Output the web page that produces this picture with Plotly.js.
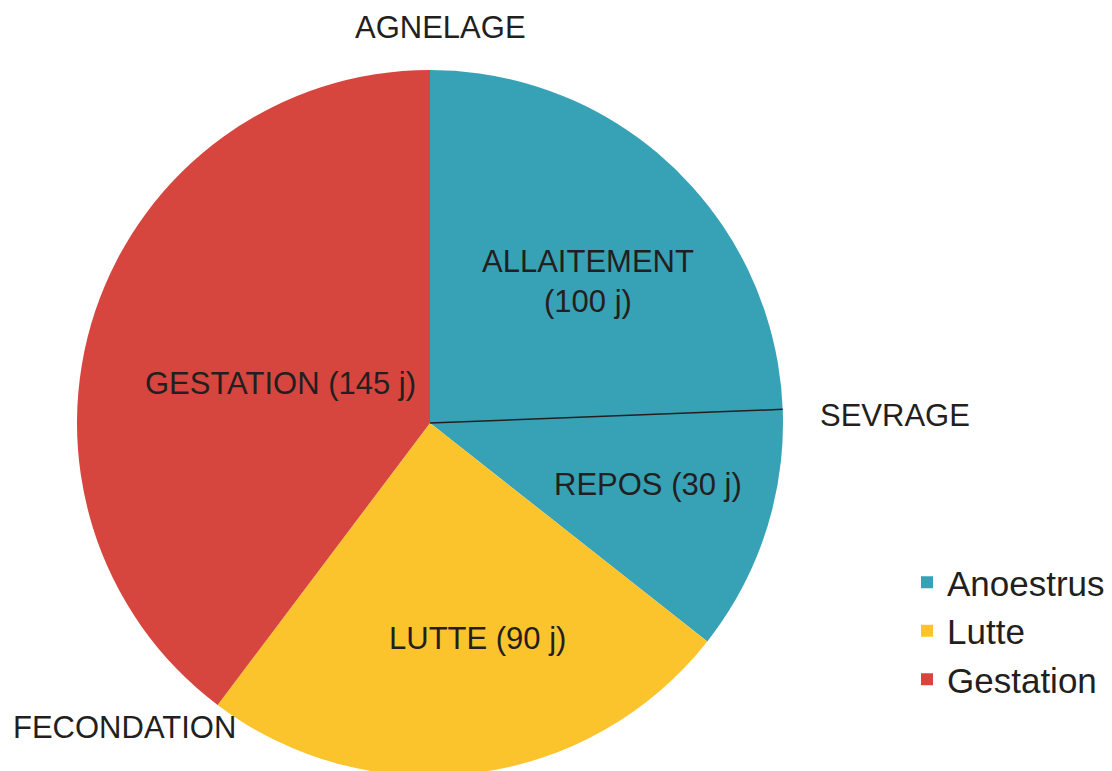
<!DOCTYPE html>
<html>
<head>
<meta charset="utf-8">
<script src="https://cdn.plot.ly/plotly-3.0.1.min.js"></script>
<style>
html,body{margin:0;padding:0;overflow:hidden;background:#fff;}
#chart{width:1112px;height:776px;}
</style>
</head>
<body>
<div id="chart"></div>
<script>
// Data
const phases = ["Anoestrus", "Lutte", "Gestation"];
const phaseDays = [130, 90, 145];
const phaseColors = ["#37A2B5", "#FCC42C", "#D6463E"];
// Sub-periods labelled inside the slices
const subLabels = ["ALLAITEMENT<br>(100 j)", "REPOS (30 j)", "LUTTE (90 j)", "GESTATION (145 j)"];
// Sevrage marker: day into the cycle where the line is drawn
const sevrageDay = 89;
// Event labels
const events = ["AGNELAGE", "SEVRAGE", "FECONDATION"];

const W = 1112, H = 776, MT = 70, MB = 0;
const plotH = H - MT - MB;
const R = plotH / 2;
const CX = 430, CY = MT + R;
const total = phaseDays.reduce((a, b) => a + b, 0);

const px2x = x => x / W;
const px2y = y => 1 - (y - MT) / plotH;

const ang = (sevrageDay / total) * 2 * Math.PI;
const sx = CX + R * Math.sin(ang), sy = CY - R * Math.cos(ang);

const textColor = "#231F20";
const font = {family: "Liberation Sans, Arial, sans-serif", size: 31, color: textColor};

const trace = {
  type: "pie",
  labels: phases,
  values: phaseDays,
  marker: {colors: phaseColors, line: {width: 0}},
  sort: false,
  direction: "clockwise",
  rotation: 0,
  textinfo: "none",
  hoverinfo: "label+value",
  domain: {x: [(CX - R) / W, (CX + R) / W], y: [0, 1]},
  automargin: false
};

const ann = (text, x, y) => ({text, x: px2x(x), y: px2y(y), xref: "paper", yref: "paper",
  showarrow: false, font, xanchor: "center", yanchor: "middle"});

const layout = {
  width: W, height: H,
  margin: {l: 0, r: 0, t: MT, b: MB},
  paper_bgcolor: "#fff",
  showlegend: true,
  legend: {x: 907 / W, y: px2y(553), xanchor: "left", yanchor: "top",
    font: {family: "Liberation Sans, Arial, sans-serif", size: 35, color: textColor},
    bgcolor: "rgba(0,0,0,0)"},
  shapes: [{type: "line", xref: "paper", yref: "paper",
    x0: px2x(CX), y0: px2y(CY), x1: px2x(sx), y1: px2y(sy),
    line: {color: "#231F20", width: 1.5}}],
  annotations: [
    ann(subLabels[0], 588, 281),
    ann(subLabels[1], 648, 484),
    ann(subLabels[2], 477, 638),
    ann(subLabels[3], 280, 383),
    ann(events[0], 440, 27),
    ann(events[1], 895, 415),
    ann(events[2], 124, 727)
  ]
};

Plotly.newPlot("chart", [trace], layout, {displayModeBar: false, staticPlot: true});
</script>
</body>
</html>
